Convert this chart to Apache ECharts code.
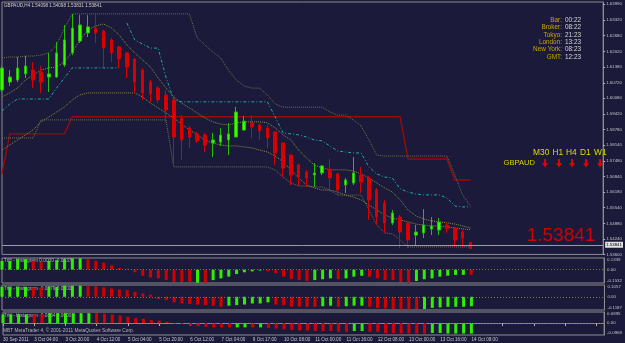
<!DOCTYPE html>
<html>
<head>
<meta charset="utf-8">
<script src="https://cdn.jsdelivr.net/npm/echarts@6/dist/echarts.min.js"></script>
<style>
html, body { margin: 0; padding: 0; background: #1b1a3b; }
#chart { width: 625px; height: 343px; }
</style>
</head>
<body>
<div id="chart"></div>
<script>
// GBPAUD H4 bars
const opens = [1.6042,1.6075,1.6084,1.6109,1.6125,1.6117,1.6096,1.6096,1.6146,1.6196,
  1.6245,1.6279,1.6299,1.6287,1.6250,1.6221,1.6196,1.6171,1.6125,1.6075,
  1.6050,1.6021,1.6001,1.5926,1.5884,1.5860,1.5855,1.5822,1.5826,1.5835,
  1.5847,1.5876,1.5905,1.5897,1.5884,1.5868,1.5822,1.5772,1.5731,1.5702,
  1.5689,1.5698,1.5714,1.5694,1.5648,1.5656,1.5689,1.5677,1.5627,1.5573,
  1.5490,1.5515,1.5490,1.5440,1.5449,1.5465,1.5461,1.5482,1.5469,1.5453,
  1.54098];
const closes = [1.6133,1.6096,1.6133,1.6142,1.6084,1.6075,1.6109,1.6196,1.6250,1.6299,
  1.6312,1.6304,1.6279,1.6216,1.6196,1.6171,1.6138,1.6075,1.6030,1.6026,
  1.6001,1.5959,1.5847,1.5835,1.5847,1.5831,1.5814,1.5835,1.5855,1.5860,
  1.5951,1.5913,1.5889,1.5872,1.5843,1.5781,1.5718,1.5689,1.5681,1.5677,
  1.5698,1.5727,1.5677,1.5627,1.5669,1.5698,1.5660,1.5586,1.5515,1.5490,
  1.5532,1.5453,1.5420,1.5453,1.5482,1.5478,1.5494,1.5469,1.5420,1.5428,
  1.53841];
const highs = [1.6142,1.6125,1.6179,1.6183,1.6158,1.6142,1.6196,1.6241,1.6312,1.6358,
  1.6353,1.6353,1.6358,1.6291,1.6258,1.6225,1.6200,1.6175,1.6133,1.6084,
  1.6059,1.6042,1.6013,1.5938,1.5893,1.5868,1.5864,1.5864,1.5884,1.5905,
  1.5972,1.5934,1.5938,1.5905,1.5897,1.5872,1.5826,1.5777,1.5735,1.5710,
  1.5739,1.5731,1.5756,1.5698,1.5677,1.5764,1.5723,1.5685,1.5635,1.5586,
  1.5544,1.5523,1.5494,1.5482,1.5548,1.5515,1.5511,1.5494,1.5474,1.5461,
  1.54098];
const lows = [1.6034,1.6059,1.6075,1.6092,1.6050,1.6030,1.6034,1.6092,1.6138,1.6187,
  1.6237,1.6262,1.6237,1.6138,1.6158,1.6133,1.6092,1.6030,1.6001,1.5992,
  1.5988,1.5909,1.5723,1.5752,1.5801,1.5822,1.5785,1.5764,1.5810,1.5772,
  1.5847,1.5872,1.5843,1.5835,1.5801,1.5731,1.5681,1.5648,1.5644,1.5640,
  1.5640,1.5689,1.5619,1.5606,1.5615,1.5648,1.5615,1.5503,1.5482,1.5449,
  1.5482,1.5386,1.5386,1.5399,1.5428,1.5440,1.5440,1.5449,1.5391,1.5386,
  1.53831];

// overlay indicator lines
const chanUpper = [1.6175,1.6179,1.6179,1.6183,1.6183,1.6187,1.6196,1.6229,1.6299,1.6358,
  1.6358,1.6358,1.6358,1.6358,1.6358,1.6358,1.6358,1.6358,1.6358,1.6358,
  1.6358,1.6358,1.6358,1.6358,1.6358,1.6258,1.6229,1.6200,1.6175,1.6125,
  1.6084,1.6059,1.6050,1.6050,1.6021,1.5984,1.5971,1.5971,1.5971,1.5971,
  1.5971,1.5971,1.5951,1.5938,1.5938,1.5918,1.5893,1.5835,1.5772,1.5768,
  1.5768,1.5768,1.5768,1.5768,1.5768,1.5768,1.5768,1.5768,1.5689,1.5606,
  1.5561];
const chanLower = [1.5843,1.5843,1.5843,1.5843,1.5843,1.5918,1.5918,1.5918,1.5918,1.5918,
  1.5918,1.5918,1.5918,1.5918,1.5918,1.5918,1.5918,1.5918,1.5918,1.5918,
  1.5918,1.5918,1.5723,1.5723,1.5723,1.5723,1.5723,1.5723,1.5723,1.5723,
  1.5723,1.5723,1.5723,1.5723,1.5723,1.5710,1.5681,1.5656,1.5644,1.5644,
  1.5640,1.5640,1.5627,1.5606,1.5606,1.5606,1.5606,1.5545,1.5482,1.5449,
  1.5445,1.5420,1.5391,1.5391,1.5391,1.5391,1.5391,1.5391,1.5391,1.5391,
  1.5391];
const maLine = [1.6013,1.6030,1.6051,1.6084,1.6105,1.6125,1.6134,1.6138,1.6159,1.6200,
  1.6250,1.6291,1.6308,1.6316,1.6300,1.6271,1.6229,1.6196,1.6167,1.6138,
  1.6092,1.6051,1.6013,1.5988,1.5968,1.5947,1.5926,1.5910,1.5901,1.5897,
  1.5906,1.5910,1.5910,1.5910,1.5906,1.5885,1.5856,1.5835,1.5793,1.5760,
  1.5731,1.5719,1.5711,1.5711,1.5711,1.5706,1.5694,1.5677,1.5657,1.5636,
  1.5619,1.5586,1.5545,1.5520,1.5507,1.5499,1.5495,1.5491,1.5486,1.5478,
  1.5470];
const bandLower = [1.5793,1.5814,1.5835,1.5856,1.5877,1.5910,1.5930,1.5951,1.5972,1.6001,
  1.6022,1.6030,1.6030,1.6030,1.6030,1.6030,1.6030,1.6030,1.6013,1.5988,
  1.5968,1.5947,1.5926,1.5901,1.5877,1.5856,1.5835,1.5822,1.5814,1.5810,
  1.5810,1.5806,1.5802,1.5793,1.5785,1.5768,1.5744,1.5711,1.5677,1.5648,
  1.5636,1.5627,1.5627,1.5619,1.5606,1.5598,1.5586,1.5565,1.5545,1.5524,
  1.5511,1.5503,1.5495,1.5486,1.5482,1.5478,1.5478,1.5474,1.5470,1.5466,
  1.5462];
const stepLine = [1.5694,1.5860,1.5860,1.5860,1.5860,1.5860,1.5860,1.5860,1.5860,1.5931,
  1.5931,1.5931,1.5931,1.5931,1.5931,1.5931,1.5931,1.5931,1.5931,1.5931,
  1.5931,1.5931,1.5931,1.5931,1.5931,1.5931,1.5931,1.5931,1.5931,1.5931,
  1.5931,1.5931,1.5931,1.5931,1.5931,1.5931,1.5931,1.5931,1.5931,1.5931,
  1.5931,1.5931,1.5931,1.5931,1.5931,1.5931,1.5931,1.5931,1.5931,1.5931,
  1.5931,1.5931,1.5756,1.5756,1.5756,1.5756,1.5756,1.5756,1.5669,1.5669,
  1.5669];
const stopUp = [1.5955,1.5984,1.6005,1.6005,1.6005,1.6005,1.6005,1.6051,1.6092,1.6134,
  1.6134,1.6134,1.6134,1.6134,1.6134,1.6134];
const stopDown = [null,null,null,null,null,null,null,null,null,null,
  null,null,null,null,null,null,1.6320,1.6250,1.6233,1.6216,
  1.6216,1.6096,1.6001,1.5993,1.5993,1.5993,1.5993,1.5993,1.5993,1.5993,
  1.5993,1.5993,1.5993,1.5993,1.5993,1.5930,1.5864,1.5860,1.5856,1.5847,
  1.5835,1.5831,1.5810,1.5789,1.5785,1.5781,1.5781,1.5723,1.5694,1.5681,
  1.5677,1.5632,1.5619,1.5611,1.5607,1.5607,1.5607,1.5594,1.5561,1.5557,
  1.5557];

// three histogram panels (value, 1 = green / 0 = red)
const hist1 = [0.10,0.10,0.12,0.12,0.10,0.09,0.10,0.11,0.12,0.13,
  0.13,0.12,0.10,0.08,0.05,0.02,0.01,-0.03,-0.07,-0.09,
  -0.10,-0.12,-0.14,-0.14,-0.14,-0.15,-0.15,-0.12,-0.10,-0.08,
  -0.05,-0.03,-0.02,-0.01,-0.02,-0.04,-0.08,-0.11,-0.12,-0.13,
  -0.12,-0.11,-0.10,-0.11,-0.10,-0.08,-0.07,-0.08,-0.10,-0.12,
  -0.12,-0.14,-0.15,-0.13,-0.11,-0.10,-0.08,-0.07,-0.06,-0.06,
  -0.06];
const hist1Up = [1,1,1,1,0,0,1,1,1,1, 1,0,0,0,0,0,0,0,0,0, 0,0,0,0,0,1,0,1,1,1,
  1,1,1,1,0,0,0,0,0,0, 1,1,1,0,1,1,1,0,0,0, 0,0,0,1,1,1,1,1,1,1, 0];
const hist2 = [0.09,0.09,0.09,0.09,0.08,0.08,0.09,0.09,0.10,0.10,
  0.10,0.10,0.095,0.085,0.075,0.065,0.06,0.045,0.03,0.02,
  -0.02,-0.03,-0.05,-0.06,-0.065,-0.07,-0.075,-0.08,-0.09,-0.08,
  -0.075,-0.07,-0.06,-0.06,-0.05,-0.07,-0.075,-0.09,-0.09,-0.09,
  -0.09,-0.085,-0.08,-0.09,-0.085,-0.08,-0.08,-0.09,-0.10,-0.105,
  -0.11,-0.115,-0.115,-0.11,-0.11,-0.10,-0.095,-0.09,-0.09,-0.09,
  -0.085];
const hist2Up = [1,1,1,1,0,0,1,1,1,1, 1,0,0,0,0,0,0,0,0,0, 0,0,0,0,0,0,0,0,0,1,
  1,1,1,1,1,0,0,0,0,0, 0,1,1,0,1,1,1,0,0,0, 0,0,0,0,1,1,1,1,1,1, 1];
const hist3 = [0.07,0.07,0.07,0.07,0.07,0.07,0.08,0.08,0.08,0.08,
  0.08,0.08,0.08,0.075,0.07,0.06,0.05,0.04,0.035,0.025,
  0.02,0.01,-0.005,-0.01,-0.02,-0.025,-0.03,-0.035,-0.035,-0.035,
  -0.035,-0.035,-0.035,-0.035,-0.04,-0.045,-0.05,-0.055,-0.06,-0.06,
  -0.065,-0.065,-0.065,-0.07,-0.07,-0.065,-0.065,-0.07,-0.07,-0.08,
  -0.08,-0.085,-0.085,-0.085,-0.085,-0.08,-0.08,-0.085,-0.085,-0.085,
  -0.085];
const hist3Up = [1,1,1,1,0,0,1,1,1,1, 1,1,0,0,0,0,0,0,0,0, 0,0,0,0,0,0,0,0,0,0,
  1,1,0,1,0,0,0,0,0,0, 0,0,0,0,0,1,1,0,0,0, 0,0,0,0,0,1,1,1,1,1, 1];

// axis labels
const priceTicks = [1.53600,1.54240,1.54880,1.55540,1.56180,1.56840,1.57480,1.58140,1.58780,
  1.59420,1.60080,1.60720,1.61380,1.62020,1.62680,1.63320,1.63990];
const timeTicks = ['30 Sep 2011','3 Oct 04:00','3 Oct 20:00','4 Oct 12:00','5 Oct 04:00','5 Oct 20:00',
  '6 Oct 12:00','7 Oct 04:00','9 Oct 17:00','10 Oct 08:00','11 Oct 00:00','11 Oct 16:00',
  '12 Oct 08:00','13 Oct 00:00','13 Oct 16:00','14 Oct 08:00'];
const panelRanges = [[-0.1532, 0.1339], [-0.1187, 0.1057], [-0.0968, 0.0895]];
const panelTitles = ['TrH - Histogram 0.0000 -0.0537', 'TrH - Histogram -0.0779 0.0000', 'TrH - Histogram -0.0864 0.0000'];
const sessions = [['Bar:', '00:22'], ['Broker:', '08:22'], ['Tokyo:', '21:23'], ['London:', '13:23'], ['New York:', '08:23'], ['GMT:', '12:23']];
const frames = ['M30', 'H1', 'H4', 'D1', 'W1'];

const totalSlots = 78;
const cats = Array.from({ length: totalSlots }, (_, i) => String(i));

const chart = echarts.init(document.getElementById('chart'));

const FONT = 'Liberation Sans';
const GRID_LINE = '#8c8c8c';
const OLIVE = '#8a8a46';

const grids = [
  { left: 2, right: 19, top: 2, height: 252.4 },
  { left: 2, right: 19, top: 258, height: 25 },
  { left: 2, right: 19, top: 285, height: 25 },
  { left: 2, right: 19, top: 312, height: 23 }
].map(g => Object.assign(g, { show: true, borderColor: GRID_LINE, borderWidth: 1 }));

const xAxes = grids.map((g, k) => ({
  type: 'category',
  gridIndex: k,
  data: cats,
  boundaryGap: false,
  axisLine: { show: k === 3, lineStyle: { color: GRID_LINE } },
  axisTick: { show: k === 3, interval: 3, length: 3, lineStyle: { color: '#b0b0b0' } },
  axisLabel: {
    show: k === 3,
    interval: 3,
    align: 'left',
    margin: 2,
    fontSize: 4.6,
    fontFamily: FONT,
    color: '#c8c8c8',
    formatter: (v, i) => timeTicks[i / 4] || ''
  },
  splitLine: { show: false }
}));

const yAxes = [{
  type: 'value',
  gridIndex: 0,
  position: 'right',
  min: 1.5360,
  max: 1.64073,
  axisLine: { show: true, lineStyle: { color: GRID_LINE } },
  axisTick: { show: true, length: 2, customValues: priceTicks, lineStyle: { color: '#b0b0b0' } },
  axisLabel: {
    customValues: priceTicks,
    formatter: v => v.toFixed(5),
    fontSize: 4.4,
    fontFamily: FONT,
    color: '#c0c0c0',
    margin: 3
  },
  splitLine: { show: false }
}].concat(panelRanges.map((r, k) => ({
  type: 'value',
  gridIndex: k + 1,
  position: 'right',
  min: r[0],
  max: r[1],
  axisLine: { show: true, lineStyle: { color: GRID_LINE } },
  axisTick: { show: false },
  axisLabel: {
    customValues: [r[0], 0, r[1]],
    formatter: v => (v === 0 ? '0.00' : v.toFixed(4)),
    verticalAlignMinLabel: 'bottom',
    verticalAlignMaxLabel: 'top',
    fontSize: 4.4,
    fontFamily: FONT,
    color: '#c0c0c0',
    margin: 3
  },
  splitLine: { show: false }
})));

const candleData = opens.map((o, i) => [o, closes[i], lows[i], highs[i]]);

function overlay(name, data, color, type, width) {
  return {
    name, type: 'line', xAxisIndex: 0, yAxisIndex: 0, data,
    showSymbol: false, silent: true, connectNulls: false,
    lineStyle: { color, width: width || 1, type: type || 'dotted' },
    z: 2
  };
}

function histogram(k, values, ups) {
  return {
    type: 'bar', xAxisIndex: k, yAxisIndex: k, barWidth: 3, silent: true,
    data: values.map((v, i) => ({ value: v, itemStyle: { color: ups[i] ? '#2cf000' : '#d40000' } })),
    markLine: {
      silent: true, symbol: 'none', label: { show: false },
      lineStyle: { color: '#7a7a52', type: [1, 2], width: 1 },
      data: [{ yAxis: 0 }]
    }
  };
}

const graphics = [];
graphics.push({ type: 'text', left: 4, top: 3, style: {
  text: 'GBPAUD,H4 1.54098 1.54098 1.53831 1.53841', fill: '#d0d0d0', font: '4.6px ' + FONT } });
sessions.forEach((s, i) => {
  graphics.push({ type: 'text', x: 562, y: 20 + i * 7.4, style: {
    text: s[0], fill: '#c8a400', font: '6.4px ' + FONT, align: 'right', verticalAlign: 'middle' } });
  graphics.push({ type: 'text', x: 565, y: 20 + i * 7.4, style: {
    text: s[1], fill: '#d8d8d0', font: '6.4px ' + FONT, align: 'left', verticalAlign: 'middle' } });
});
const labelX = [533, 552.5, 566, 580, 594];
const arrowX = [545, 559, 572, 586, 600];
frames.forEach((f, i) => {
  graphics.push({ type: 'text', x: labelX[i], y: 153, style: {
    text: f, fill: '#dcdc00', font: '8.4px ' + FONT, align: 'left', verticalAlign: 'middle' } });
  const x = arrowX[i];
  graphics.push({ type: 'polygon', shape: { points: [
    [x - 1, 159], [x + 1, 159], [x + 1, 163], [x + 3, 163], [x, 167.5], [x - 3, 163], [x - 1, 163]] },
    style: { fill: '#e00000' } });
});
graphics.push({ type: 'text', x: 535, y: 163, style: {
  text: 'GBPAUD', fill: '#d4d400', font: '7.6px ' + FONT, align: 'right', verticalAlign: 'middle' } });
graphics.push({ type: 'text', x: 561, y: 236, style: {
  text: '1.53841', fill: '#d00000', font: '19px ' + FONT, align: 'center', verticalAlign: 'middle' } });
panelTitles.forEach((t, k) => {
  graphics.push({ type: 'text', left: 4, top: [258, 286, 313][k], style: {
    text: t, fill: '#b0b0b0', font: '4.8px ' + FONT } });
});
graphics.push({ type: 'text', left: 3, top: 328, style: {
  text: 'MBT MetaTrader 4, © 2001-2011 MetaQuotes Software Corp.', fill: '#b4b4b4', font: '4.8px ' + FONT } });

const option = {
  animation: false,
  backgroundColor: '#1b1a3b',
  grid: grids,
  xAxis: xAxes,
  yAxis: yAxes,
  series: [
    overlay('stepLine', stepLine, '#9a0a0a', 'solid', 1.4),
    overlay('chanUpper', chanUpper, '#6e6e52'),
    overlay('chanLower', chanLower, '#6e6e52'),
    overlay('ma', maLine, OLIVE),
    overlay('bandLower', bandLower, OLIVE),
    overlay('stopUp', stopUp, '#1fa8a8', [3, 2, 1, 2]),
    overlay('stopDown', stopDown, '#1fa8a8', [3, 2, 1, 2]),
    {
      type: 'candlestick', xAxisIndex: 0, yAxisIndex: 0, barWidth: 3, silent: true,
      data: candleData,
      itemStyle: { color: '#38ff00', color0: '#d80000', borderColor: '#22c000', borderColor0: '#d80000', borderWidth: 1 },
      z: 3,
      markLine: {
        silent: true, symbol: 'none',
        lineStyle: { color: '#9a9aa8', type: 'solid', width: 1 },
        label: { show: true, position: 'end', formatter: '1.53841', color: '#000', backgroundColor: '#e0e0e0',
          fontSize: 4.4, fontFamily: FONT, padding: [1, 1], distance: 2 },
        data: [{ yAxis: closes[closes.length - 1] }]
      }
    },
    histogram(1, hist1, hist1Up),
    histogram(2, hist2, hist2Up),
    histogram(3, hist3, hist3Up)
  ],
  graphic: graphics
};

chart.setOption(option);
window.addEventListener('resize', () => chart.resize());
</script>
</body>
</html>
